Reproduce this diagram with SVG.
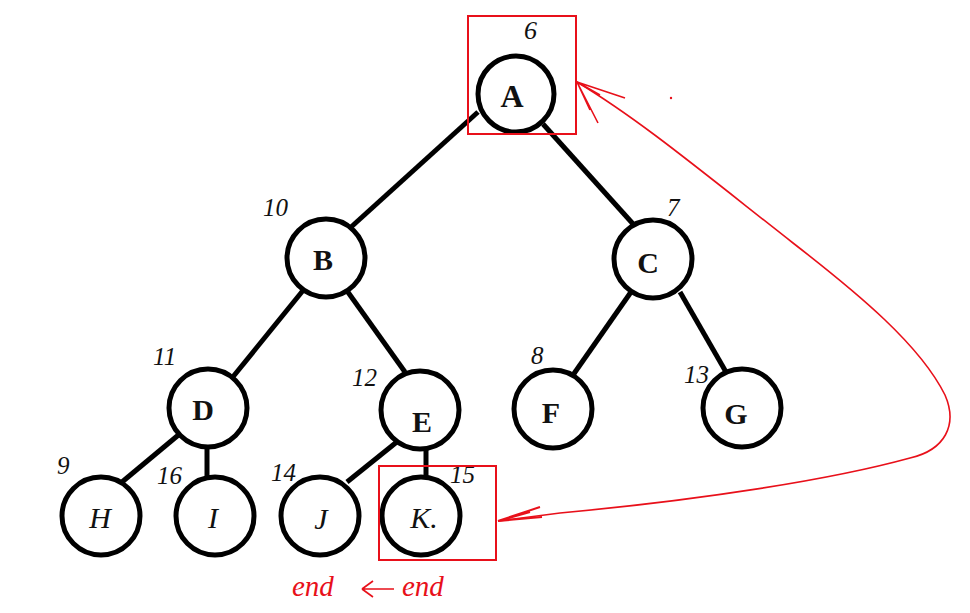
<svg xmlns="http://www.w3.org/2000/svg" width="970" height="613" viewBox="0 0 970 613">
<defs>
<style>
.n{fill:#fff;stroke:#000;stroke-width:5}
.e{stroke:#000;stroke-width:5;fill:none}
.lt{font-family:"Liberation Serif",serif;font-weight:bold;font-size:30px;text-anchor:middle;fill:#111}
.li{font-family:"Liberation Serif",serif;font-style:italic;font-size:30px;text-anchor:middle;fill:#111}
.num{font-family:"Liberation Serif",serif;font-style:italic;font-size:25px;fill:#111}
.red{fill:none;stroke:#e8101a;stroke-width:1.6}
.redbox{fill:none;stroke:#e8101a;stroke-width:2}
.rt{font-family:"Liberation Serif",serif;font-style:italic;font-size:29px;fill:#e8101a}
</style>
</defs>
<rect width="970" height="613" fill="#fff"/>
<g id="connectors">
<line class="e" x1="478" y1="112" x2="350" y2="228"/>
<line class="e" x1="543" y1="124" x2="634" y2="225"/>
<line class="e" x1="305" y1="288" x2="232" y2="378"/>
<line class="e" x1="345" y1="288" x2="405" y2="372"/>
<line class="e" x1="631" y1="292" x2="573" y2="375"/>
<line class="e" x1="680" y1="292" x2="726" y2="372"/>
<line class="e" x1="182" y1="432" x2="122" y2="482"/>
<line class="e" x1="207" y1="446" x2="207" y2="477"/>
<line class="e" x1="398" y1="441" x2="347" y2="482"/>
<line class="e" x1="426" y1="448" x2="426" y2="477"/>
</g>
<g id="node-A"><circle class="n" cx="516" cy="94" r="38"/><text class="lt" x="512" y="107" style="font-size:32px">A</text><text class="num" x="524" y="39" style="font-size:26px">6</text></g>
<g id="node-B"><circle class="n" cx="326" cy="258" r="39"/><text class="lt" x="323" y="270">B</text><text class="num" x="263" y="216">10</text></g>
<g id="node-C"><circle class="n" cx="653" cy="259" r="39"/><text class="lt" x="648" y="273">C</text><text class="num" x="667" y="216">7</text></g>
<g id="node-D"><circle class="n" cx="208" cy="408" r="39"/><text class="lt" x="203" y="420">D</text><text class="num" x="153" y="365">11</text></g>
<g id="node-E"><circle class="n" cx="420" cy="410" r="39"/><text class="lt" x="422" y="432">E</text><text class="num" x="352" y="386">12</text></g>
<g id="node-F"><circle class="n" cx="553" cy="409" r="39"/><text class="lt" x="551" y="423">F</text><text class="num" x="531" y="364">8</text></g>
<g id="node-G"><circle class="n" cx="742" cy="408" r="39"/><text class="lt" x="736" y="424">G</text><text class="num" x="684" y="383">13</text></g>
<g id="node-H"><circle class="n" cx="101" cy="516" r="39"/><text class="li" x="100" y="528">H</text><text class="num" x="57" y="474">9</text></g>
<g id="node-I"><circle class="n" cx="215" cy="516" r="39"/><text class="li" x="213" y="528">I</text><text class="num" x="157" y="484">16</text></g>
<g id="node-J"><circle class="n" cx="320" cy="516" r="39"/><text class="li" x="321" y="529">J</text><text class="num" x="271" y="481">14</text></g>
<g id="node-K"><circle class="n" cx="421" cy="516" r="39"/><text class="li" x="424" y="528">K.</text><text class="num" x="450" y="483">15</text></g>
<g id="annotations">
<rect class="redbox" x="468" y="16" width="108" height="118"/>
<rect class="redbox" x="379" y="466" width="117" height="94"/>
<path class="red" d="M577,82 C640,120 700,170 793,243 C860,295 920,345 945,395 C958,425 945,450 910,458 C830,480 700,500 560,513 L498,521"/>
<path class="red" d="M577,82 L625,98 M577,82 L598,123 M577,82 L600,95 M577,82 L590,110"/>
<path class="red" d="M498,521 L540,507 M498,521 L542,517 M498,521 L530,512" style="stroke-width:2"/>
<circle cx="671" cy="98" r="1.2" fill="#e8101a"/>
<text class="rt" x="292" y="596">end</text>
<path class="red" d="M362,589 L394,589 M362,589 L373,581 M362,589 L373,597"/>
<text class="rt" x="402" y="596">end</text>
</g>
</svg>
